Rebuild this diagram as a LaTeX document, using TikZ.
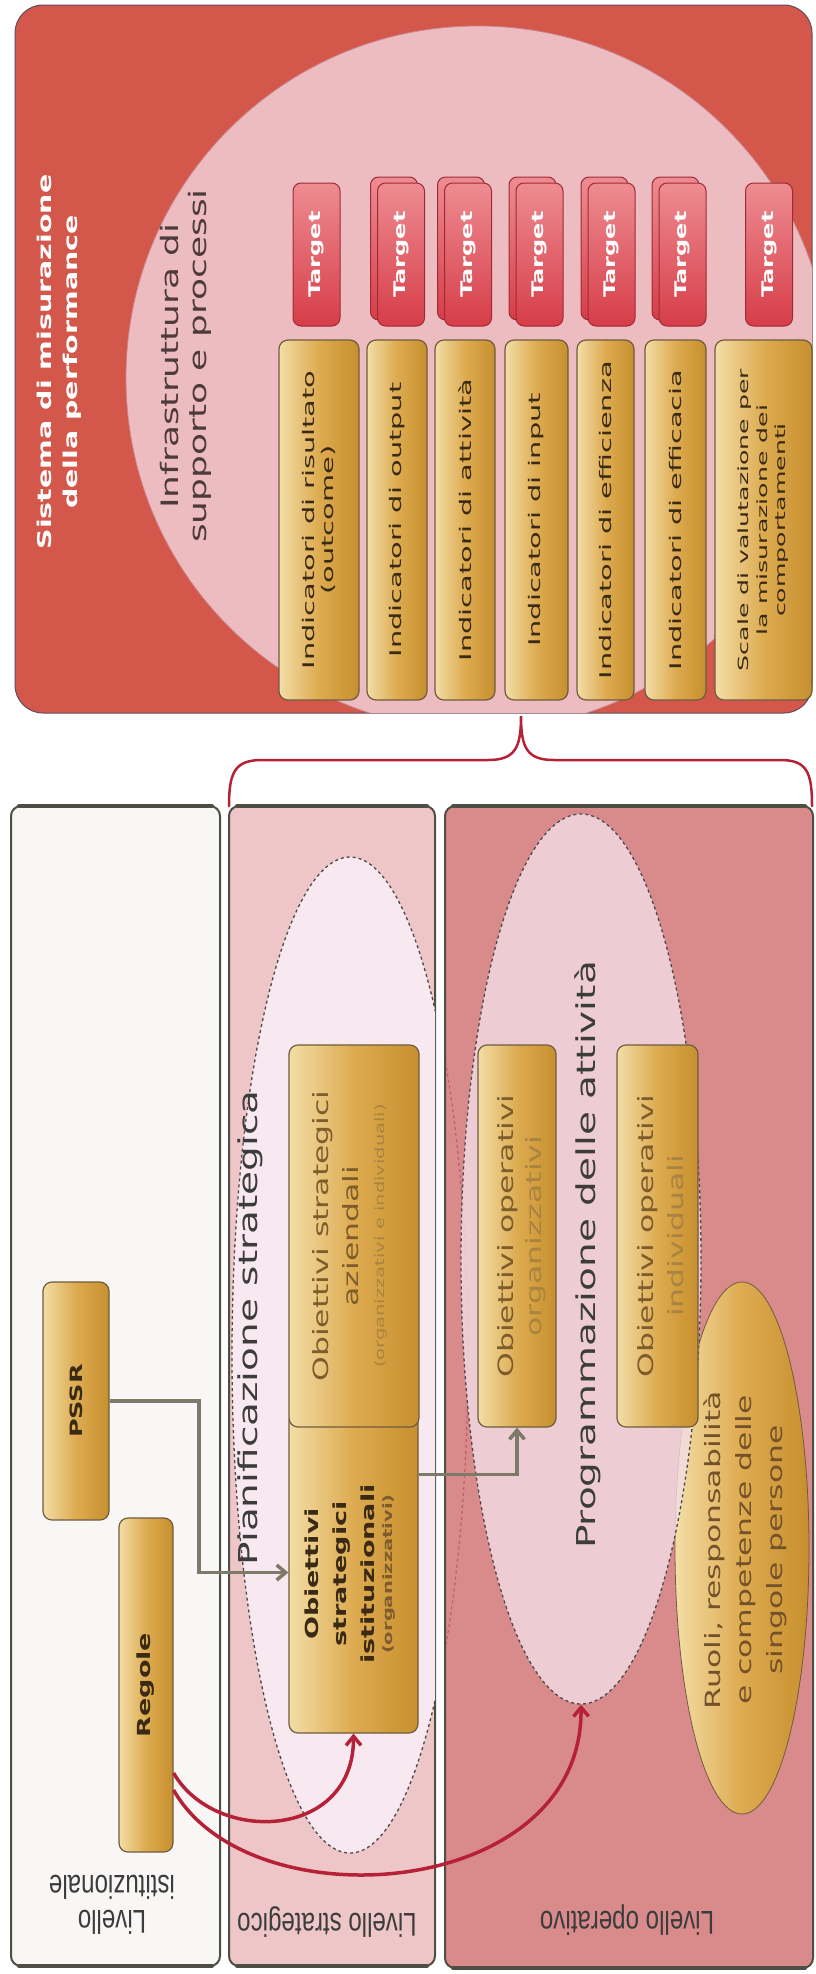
\documentclass[tikz,border=0pt]{standalone}
\usepackage{fontspec}
\usetikzlibrary{shapes.geometric,calc,arrows.meta}
\newfontfamily\rtf[FakeStretch=1.5]{DejaVu Sans}
\newfontfamily\rtg[FakeStretch=1.8]{DejaVu Sans}
\newfontfamily\lvf[FakeStretch=0.73]{Liberation Sans}
\definecolor{panelred}{HTML}{D4574B}
\definecolor{panelline}{HTML}{5E4E5E}
\definecolor{pinkc}{HTML}{EDBCC0}
\definecolor{pinkedge}{HTML}{C9868C}
\definecolor{tgtT}{HTML}{EE8C92}
\definecolor{tgtB}{HTML}{D63D48}
\definecolor{tgtedge}{HTML}{9E2A35}
\definecolor{goldL}{HTML}{F3DDA6}
\definecolor{goldM}{HTML}{DDAB50}
\definecolor{goldR}{HTML}{C78F2E}
\definecolor{goldedge}{HTML}{6F5C3E}
\definecolor{lvledge}{HTML}{4F4E45}
\definecolor{istfill}{HTML}{F9F7F5}
\definecolor{strfill}{HTML}{EFC6C7}
\definecolor{opfill}{HTML}{D98A8B}
\definecolor{ellS}{HTML}{F8E8EF}
\definecolor{ellO}{HTML}{F3DDE5}
\definecolor{dashcol}{HTML}{4A4A4A}
\definecolor{faintred}{HTML}{C45A6A}
\definecolor{txtbrown}{HTML}{3A2A14}
\definecolor{lbrown}{HTML}{7E5C2C}
\definecolor{llbrown}{HTML}{A8843F}
\definecolor{rbrown}{HTML}{75512A}
\definecolor{labgrey}{HTML}{3C3C3C}
\definecolor{infracol}{HTML}{4D3A3A}
\definecolor{garrowc}{HTML}{7C7A68}
\definecolor{rarrowc}{HTML}{B52237}
\begin{document}
\begin{tikzpicture}[x=1pt,y=-1pt,
  goldbox/.style={draw=goldedge, line width=1.2pt, rounded corners=9pt, left color=goldL, right color=goldR, middle color=goldM, inner sep=0pt},
  tgtbox/.style={draw=tgtedge, line width=1pt, rounded corners=8pt, top color=tgtT, bottom color=tgtB, minimum width=47pt, minimum height=143pt, inner sep=0pt},
  rtxt/.style={rotate=90, align=center, inner sep=0pt},
  tgttxt/.style={rtxt, font=\rtf\bfseries\fontsize{16}{18}\selectfont, text=white},
  indtxt/.style={rtxt, font=\rtg\fontsize{16}{18.5}\selectfont, text=txtbrown},
  lvlbox/.style={draw=lvledge, line width=2pt, rounded corners=10pt, inner sep=0pt},
  bevel/.style={draw=lvledge, line width=4pt, line cap=round},
  lvltxt/.style={rotate=180, align=center, inner sep=0pt, font=\lvf\fontsize{33}{35}\selectfont, text=labgrey},
  garrow/.style={draw=garrowc, line width=3.5pt, -{Straight Barb[length=9pt,width=15pt]}},
  rarrow/.style={draw=rarrowc, line width=3.5pt, -{Straight Barb[length=9pt,width=15pt]}},
  bracestyle/.style={draw=rarrowc, line width=2.5pt, line cap=round}]
\useasboundingbox (0,0) rectangle (816,1974);
\fill[white] (0,0) rectangle (816,1974);

% ---------- top panel ----------
\node[draw=panelline, line width=1pt, fill=panelred, rounded corners=28pt, minimum width=797pt, minimum height=708pt, inner sep=0pt] (panel) at (413.5,359) {};
\begin{scope}
  \clip[rounded corners=28pt] (15,5) rectangle (812,713);
  \fill[pinkc] (478,378) circle (352);
  \draw[pinkedge, line width=0.8pt] (478,378) circle (352);
\end{scope}
\node[rtxt, font=\rtf\bfseries\fontsize{19}{26}\selectfont, text=white] (title) at (59,362) {Sistema di misurazione\\della performance};
\node[rtxt, font=\rtf\fontsize{24}{28}\selectfont, text=infracol] (infra) at (186,366) {Infrastruttura di\\supporto e processi};

% targets (back copies)
\foreach \n/\x in {2/401,3/468,4/539.5,5/611.5,6/682.5}{
  \node[tgtbox] (tb\n) at (\x-7,248.5) {};
}
\foreach \n/\x in {1/316.5,2/401,3/468,4/539.5,5/611.5,6/682.5,7/769}{
  \node[tgtbox] (t\n) at (\x,254.5) {};
  \node[tgttxt] (tl\n) at (t\n) {Target};
}

% indicators
\node[goldbox, minimum width=80pt, minimum height=360pt] (i1) at (319,520) {};
\node[indtxt] (i1t) at (i1) {Indicatori di risultato\\(outcome)};
\node[goldbox, minimum width=60pt, minimum height=360pt] (i2) at (397,520) {};
\node[indtxt] (i2t) at (i2) {Indicatori di output};
\node[goldbox, minimum width=60pt, minimum height=360pt] (i3) at (465,520) {};
\node[indtxt] (i3t) at (i3) {Indicatori di attività};
\node[goldbox, minimum width=63pt, minimum height=360pt] (i4) at (536.5,520) {};
\node[indtxt] (i4t) at (i4) {Indicatori di input};
\node[goldbox, minimum width=57pt, minimum height=360pt] (i5) at (605.5,520) {};
\node[indtxt] (i5t) at (i5) {Indicatori di efficienza};
\node[goldbox, minimum width=61pt, minimum height=360pt] (i6) at (675.5,520) {};
\node[indtxt] (i6t) at (i6) {Indicatori di efficacia};
\node[goldbox, minimum width=97pt, minimum height=360pt] (i7) at (763.5,520) {};
\node[indtxt, font=\rtg\fontsize{14}{18.5}\selectfont] (i7t) at (i7) {Scale di valutazione per\\la misurazione dei\\comportamenti};

% brace
\coordinate (braceL) at (229,806);
\coordinate (braceT) at (521,716);
\coordinate (braceR) at (812,806);
\draw[bracestyle] (braceL) .. controls (229,772) and (235,760) .. (262,760) -- (488,760)
  .. controls (515,760) and (521,748) .. (braceT)
  .. controls (521,748) and (527,760) .. (554,760) -- (780,760)
  .. controls (807,760) and (812,772) .. (braceR);

% ---------- level boxes ----------
\node[lvlbox, fill=istfill, minimum width=209pt, minimum height=1160pt] (istl) at (115.5,1386) {};
\node[lvlbox, fill=strfill, minimum width=206pt, minimum height=1160pt] (strl) at (332,1386) {};
\draw[bevel] ([xshift=9pt,yshift=-1pt]istl.north west) -- ([xshift=-9pt,yshift=-1pt]istl.north east);
\draw[bevel] ([xshift=9pt,yshift=1pt]istl.south west) -- ([xshift=-9pt,yshift=1pt]istl.south east);
\draw[bevel] ([xshift=9pt,yshift=-1pt]strl.north west) -- ([xshift=-9pt,yshift=-1pt]strl.north east);
\draw[bevel] ([xshift=9pt,yshift=1pt]strl.south west) -- ([xshift=-9pt,yshift=1pt]strl.south east);

\begin{scope}
  \clip[rounded corners=10pt] (229,806) rectangle (435,1966);
  \fill[ellS] (350,1355) ellipse [x radius=118, y radius=498];
  \draw[dashcol, dashed, line width=1.3pt] (350,1355) ellipse [x radius=118, y radius=498];
\end{scope}

\node[lvlbox, fill=opfill, minimum width=368pt, minimum height=1162pt] (opl) at (629,1387) {};
\draw[bevel] ([xshift=9pt,yshift=-1pt]opl.north west) -- ([xshift=-9pt,yshift=-1pt]opl.north east);
\draw[bevel] ([xshift=9pt,yshift=1pt]opl.south west) -- ([xshift=-9pt,yshift=1pt]opl.south east);
\begin{scope}
  \clip (446,808) rectangle (812,1966);
  \draw[faintred, dashed, line width=1.2pt] (350,1355) ellipse [x radius=118, y radius=498];
\end{scope}

\node[ellipse, draw=goldedge, line width=0.8pt, left color=goldL, right color=goldR, middle color=goldM, minimum width=134pt, minimum height=532pt, inner sep=0pt] (ruoli) at (742,1548) {};
\node[ellipse, draw=dashcol, dashed, line width=1.3pt, fill=ellO, fill opacity=0.8, minimum width=240pt, minimum height=890pt, inner sep=0pt] (progr) at (581,1259) {};

% labels
\node[rtxt, font=\rtf\fontsize{26}{30}\selectfont, text=labgrey] (pianif) at (250,1328) {Pianificazione strategica};
\node[rtxt, font=\rtf\fontsize{26}{30}\selectfont, text=labgrey] (progrt) at (588,1255) {Programmazione delle attività};
\node[rtxt, font=\rtf\fontsize{21}{31}\selectfont, text=rbrown] (ruolit) at (745,1550) {Ruoli, responsabilità\\e competenze delle\\singole persone};

% objective boxes
\node[goldbox, minimum width=129pt, minimum height=321pt] (istit) at (353.5,1572.5) {};
\node[goldbox, minimum width=130pt, minimum height=382pt] (azien) at (354,1236) {};
\node[goldbox, minimum width=78pt, minimum height=382pt] (org) at (517,1236) {};
\node[goldbox, minimum width=81pt, minimum height=382pt] (indiv) at (657.5,1236) {};
\node[goldbox, minimum width=54pt, minimum height=334pt] (regole) at (146,1685) {};
\node[goldbox, minimum width=66pt, minimum height=238pt] (pssr) at (76,1401) {};

\node[rtxt, font=\rtf\bfseries\fontsize{18}{28}\selectfont, text=txtbrown] (istitt) at (350,1574) {Obiettivi\\strategici\\istituzionali\\[-10pt]{\color{lbrown}\fontsize{13}{15}\selectfont(organizzativi)}};
\node[rtxt, font=\rtf\fontsize{21}{30}\selectfont, text=lbrown] (azient) at (350,1236) {Obiettivi strategici\\aziendali\\[-4pt]{\color{llbrown}\fontsize{13}{15}\selectfont(organizzativi e individuali)}};
\node[rtxt, font=\rtf\fontsize{21}{28}\selectfont, text=lbrown] (orgt) at (522,1236) {Obiettivi operativi\\{\color{llbrown}organizzativi}};
\node[rtxt, font=\rtf\fontsize{21}{30}\selectfont, text=lbrown] (indivt) at (661,1236) {Obiettivi operativi\\{\color{llbrown}individuali}};
\node[rtxt, font=\rtf\bfseries\fontsize{18}{20}\selectfont, text=txtbrown] (regolet) at (regole) {Regole};
\node[rtxt, font=\rtf\bfseries\fontsize{17}{20}\selectfont, text=txtbrown] (pssrt) at (pssr) {PSSR};

% level labels
\node[lvltxt] (lab1) at (112,1905) {Livello\\istituzionale};
\node[lvltxt] (lab2) at (327,1922) {Livello strategico};
\node[lvltxt] (lab3) at (627,1920) {Livello operativo};

% arrows
\draw[garrow] (pssr.east) -| (199,1480) |- (istit.west);
\draw[garrow] ($(istit.north east)+(0,63)$) -| (org.south);
\draw[rarrow] ($(regole.east)+(0,88)$) .. controls (215,1845) and (354,1840) .. (istit.south);
\draw[rarrow] ($(regole.east)+(0,105)$) .. controls (250,1925) and (583,1900) .. (progr.south);
\end{tikzpicture}
\end{document}
